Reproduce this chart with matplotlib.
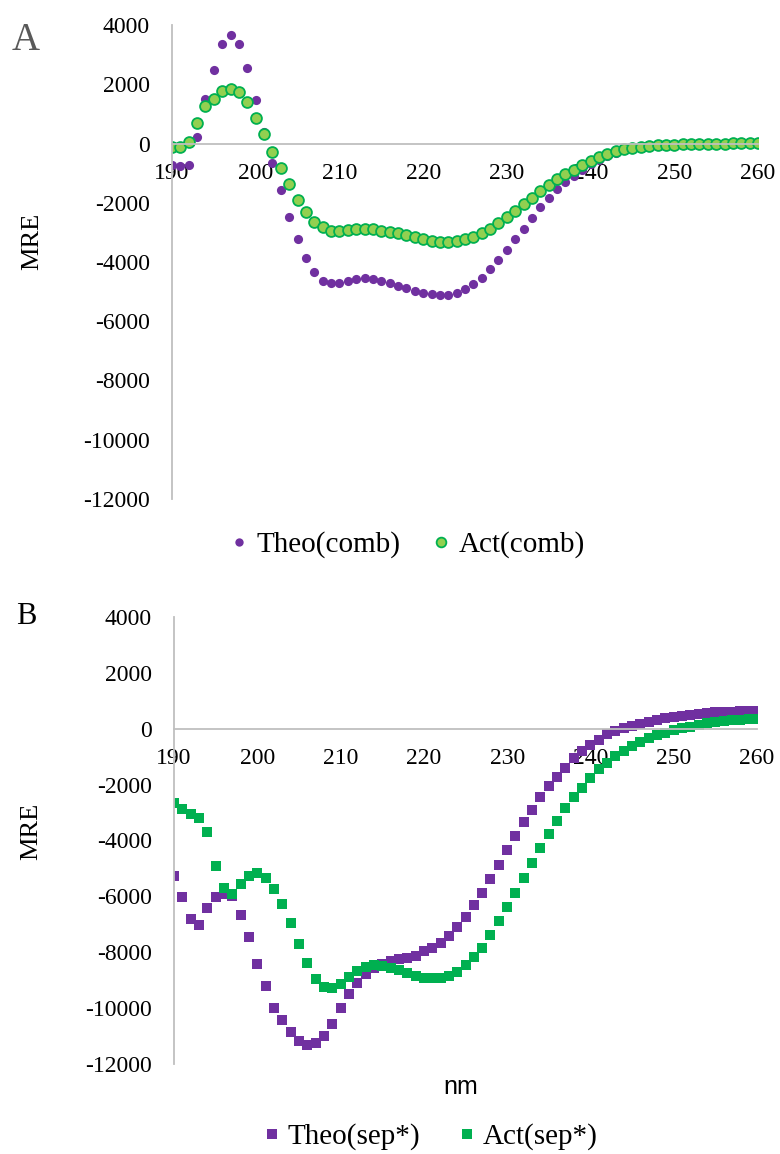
import matplotlib
matplotlib.use('Agg')
import matplotlib.pyplot as plt
from matplotlib.lines import Line2D

plt.rcParams['axes.unicode_minus'] = False

# длины волн, нм
nm = list(range(190, 261))

# Панель A: комбинированные спектры
theo_comb = [-730, -760, -726, 215, 1500, 2480, 3360, 3663, 3350, 2538,
             1469, 399, -647, -1570, -2470, -3235, -3876, -4349, -4637, -4720,
             -4697, -4630, -4574, -4551, -4574, -4630, -4697, -4799, -4866, -4968,
             -5035, -5080, -5114, -5114, -5035, -4922, -4754, -4530, -4248, -3933,
             -3595, -3235, -2886, -2526, -2133, -1851, -1536, -1289, -1087, -880,
             -700, -545, -420, -315, -235, -170, -120, -85, -60, -40,
             -28, -20, -15, -10, -8, -5, -3, -2, 0, 0, 0]
act_comb = [-110, -110, 40, 682, 1277, 1502, 1772, 1840, 1750, 1411,
            871, 310, -298, -838, -1378, -1907, -2323, -2640, -2829, -2941,
            -2941, -2918, -2885, -2885, -2896, -2941, -2975, -3031, -3087, -3166,
            -3233, -3278, -3312, -3312, -3278, -3222, -3140, -3020, -2886, -2695,
            -2492, -2279, -2053, -1851, -1604, -1401, -1209, -1040, -896, -727,
            -581, -446, -356, -266, -198, -142, -109, -86, -63, -41,
            -35, -28, -22, -16, -10, -5, 0, 3, 6, 8, 10]

# Панель B: раздельные спектры
theo_sep = [-5282, -6022, -6820, -7024, -6420, -6022, -5900, -6000, -6678, -7454,
            -8431, -9207, -9983, -10434, -10852, -11175, -11318, -11258, -10996, -10578,
            -10005, -9504, -9088, -8789, -8551, -8430, -8312, -8228, -8193, -8134,
            -7954, -7858, -7679, -7417, -7095, -6737, -6308, -5890, -5389, -4888,
            -4352, -3845, -3350, -2909, -2433, -2039, -1717, -1395, -1061, -799,
            -596, -417, -203, -84, 12, 96, 179, 250, 310, 370,
            430, 465, 501, 537, 560, 584, 596, 608, 620, 632, 632]
act_sep = [-2648, -2884, -3063, -3206, -3696, -4913, -5711, -5925, -5567, -5270,
           -5152, -5353, -5746, -6283, -6941, -7693, -8394, -8966, -9242, -9290,
           -9146, -8884, -8669, -8527, -8467, -8491, -8551, -8634, -8753, -8849,
           -8908, -8932, -8909, -8848, -8705, -8455, -8169, -7858, -7393, -6881,
           -6380, -5890, -5353, -4805, -4258, -3779, -3303, -2827, -2444, -2111,
           -1753, -1453, -1213, -977, -798, -619, -465, -343, -225, -143,
           -57, 14, 72, 132, 191, 229, 264, 300, 322, 347, 358]

x_ticks = [190, 200, 210, 220, 230, 240, 250, 260]
y_ticks = [-12000, -10000, -8000, -6000, -4000, -2000, 0, 2000, 4000]

purple = '#7030A0'
green = '#00B050'
light_green = '#92D050'
axis_gray = '#BFBFBF'
serif = 'Liberation Serif'

W, H = 780, 1154
fig = plt.figure(figsize=(W / 100, H / 100), dpi=100, facecolor='white')


def px_axes(left, right, top, bottom):
    return fig.add_axes([left / W, 1 - bottom / H, (right - left) / W, (bottom - top) / H])


def style_axis(ax):
    ax.set_xlim(190, 260)
    ax.set_ylim(-12000, 4000)
    ax.set_xticks(x_ticks)
    ax.set_yticks(y_ticks)
    for s in ['top', 'right']:
        ax.spines[s].set_visible(False)
    ax.spines['bottom'].set_position(('data', 0))
    for s in ['left', 'bottom']:
        ax.spines[s].set_color(axis_gray)
        ax.spines[s].set_linewidth(1.3)
    ax.tick_params(axis='both', length=0, labelsize=17)
    ax.tick_params(axis='x', pad=14)
    ax.tick_params(axis='y', pad=16)
    for lab in ax.get_xticklabels() + ax.get_yticklabels():
        lab.set_fontfamily(serif)
    ax.patch.set_alpha(0)


# ---- Панель A ----
ax1 = px_axes(172, 758, 25, 499)
ax1.plot(nm, theo_comb, 'o', linestyle='none', color=purple, markersize=6.6, markeredgewidth=0)
ax1.plot(nm, act_comb, 'o', linestyle='none', markerfacecolor=light_green,
         markeredgecolor=green, markeredgewidth=1.3, markersize=7.8)
style_axis(ax1)

fig.text(25.5 / W, 1 - 41 / H, 'A', fontsize=28, family=serif, color='#595959',
         ha='center', va='center')
fig.text(32.5 / W, 1 - 241.5 / H, 'MRE', fontsize=19, family=serif, rotation=90,
         ha='center', va='center')

h1 = [Line2D([], [], marker='o', linestyle='none', color=purple, markersize=6, markeredgewidth=0),
      Line2D([], [], marker='o', linestyle='none', markerfacecolor=light_green,
             markeredgecolor=green, markeredgewidth=1.3, markersize=7)]
fig.legend(h1, ['Theo(comb)', 'Act(comb)'], loc='center', ncol=2, frameon=False,
           bbox_to_anchor=(408 / W, 1 - 545 / H), prop={'family': serif, 'size': 21},
           handlelength=0.5, handletextpad=0.35, columnspacing=1.15, borderpad=0)

# ---- Панель B ----
ax2 = px_axes(174, 757, 617, 1064)
ax2.plot(nm, theo_sep, 's', linestyle='none', color=purple, markersize=7.8, markeredgewidth=0)
ax2.plot(nm, act_sep, 's', linestyle='none', color=green, markersize=7.8, markeredgewidth=0)
style_axis(ax2)

fig.text(26.5 / W, 1 - 616 / H, 'B', fontsize=22, family=serif, color='black',
         ha='center', va='center')
fig.text(31.7 / W, 1 - 831 / H, 'MRE', fontsize=19, family=serif, rotation=90,
         ha='center', va='center')
fig.text(461 / W, 1 - 1087 / H, 'nm', fontsize=18, family='Liberation Sans',
         ha='center', va='center')

h2 = [Line2D([], [], marker='s', linestyle='none', color=purple, markersize=7.2, markeredgewidth=0),
      Line2D([], [], marker='s', linestyle='none', color=green, markersize=7.2, markeredgewidth=0)]
fig.legend(h2, ['Theo(sep*)', 'Act(sep*)'], loc='center', ncol=2, frameon=False,
           bbox_to_anchor=(431 / W, 1 - 1137 / H), prop={'family': serif, 'size': 21},
           handlelength=0.5, handletextpad=0.3, columnspacing=1.35, borderpad=0)

fig.savefig('out.png', dpi=100, facecolor='white')
